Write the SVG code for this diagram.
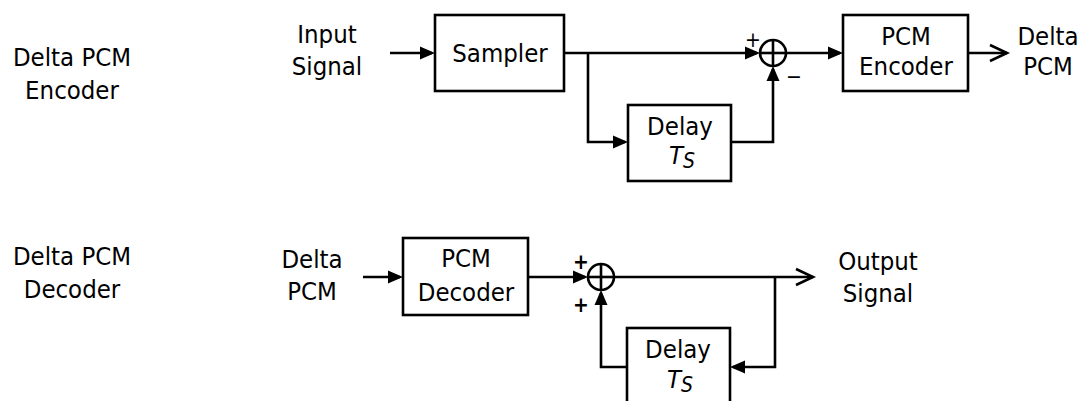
<svg xmlns="http://www.w3.org/2000/svg" width="1088" height="401" viewBox="0 0 1088 401">
<style>
text{font-family:"DejaVu Sans Condensed","DejaVu Sans","Verdana",sans-serif;font-size:25.5px;fill:#000;text-anchor:middle}
.box{fill:#fff;stroke:#000;stroke-width:2.6}
.sum{fill:#fff;stroke:#000;stroke-width:2.6}
.ln{fill:none;stroke:#000;stroke-width:2.6}
.arr{marker-end:url(#fa)}
.open{marker-end:url(#oa)}
.it{font-style:italic}
.sign{font-size:21px}
.bsign{font-size:21px;font-weight:bold}
</style>
<defs>
<marker id="fa" markerUnits="userSpaceOnUse" markerWidth="16" markerHeight="14" refX="12" refY="6.5" orient="auto" overflow="visible">
<path d="M0,0 L15,6.5 L0,13 z" fill="#000"/>
</marker>
<marker id="oa" markerUnits="userSpaceOnUse" markerWidth="18" markerHeight="18" refX="17" refY="8" orient="auto" overflow="visible">
<path d="M0,0 L17,8 L0,16" fill="none" stroke="#000" stroke-width="2.6"/>
</marker>
</defs>

<g id="label-encoder">
<text x="72" y="66">Delta PCM</text>
<text x="72" y="99">Encoder</text>
</g>
<g id="label-decoder">
<text x="72" y="265">Delta PCM</text>
<text x="72" y="298">Decoder</text>
</g>

<g id="connectors">
<line class="ln arr" x1="390" y1="53" x2="432" y2="53"/>
<line class="ln arr" x1="564" y1="53" x2="757" y2="53"/>
<polyline class="ln arr" points="588,53 588,142 625,142"/>
<polyline class="ln arr" points="731,142 773,142 773,69"/>
<line class="ln arr" x1="786" y1="53" x2="840" y2="53"/>
<line class="ln open" x1="968" y1="53" x2="1007" y2="53"/>

<line class="ln arr" x1="363" y1="277" x2="400" y2="277"/>
<line class="ln arr" x1="528" y1="277" x2="585" y2="277"/>
<line class="ln open" x1="614" y1="277" x2="813" y2="277"/>
<polyline class="ln arr" points="775,277 775,367 733,367"/>
<polyline class="ln arr" points="627,367 601,367 601,293"/>
</g>

<g id="input-signal">
<text x="327" y="43">Input</text>
<text x="327" y="75">Signal</text>
</g>
<g id="sampler">
<rect class="box" x="435" y="15" width="129" height="76"/>
<text x="500" y="62">Sampler</text>
</g>
<g id="sum-enc">
<circle class="sum" cx="773" cy="53" r="13"/>
<line class="ln" x1="760" y1="53" x2="786" y2="53"/>
<line class="ln" x1="773" y1="40" x2="773" y2="66"/>
<text class="sign" x="753" y="47">+</text>
<text class="sign" x="794" y="84">−</text>
</g>
<g id="delay-enc">
<rect class="box" x="628" y="105" width="103" height="76"/>
<text x="680" y="135">Delay</text>
<text x="669" y="164" style="text-anchor:start"><tspan class="it">T</tspan><tspan class="it" font-size="21" dy="4">S</tspan></text>
</g>
<g id="pcm-encoder">
<rect class="box" x="843" y="15" width="125" height="76"/>
<text x="906" y="45">PCM</text>
<text x="906" y="75">Encoder</text>
</g>
<g id="delta-pcm-out">
<text x="1048" y="45">Delta</text>
<text x="1048" y="75">PCM</text>
</g>

<g id="delta-pcm-in">
<text x="312" y="268">Delta</text>
<text x="312" y="300">PCM</text>
</g>
<g id="pcm-decoder">
<rect class="box" x="403" y="238" width="125" height="77"/>
<text x="466" y="267">PCM</text>
<text x="466" y="301">Decoder</text>
</g>
<g id="sum-dec">
<circle class="sum" cx="601" cy="277" r="13"/>
<line class="ln" x1="588" y1="277" x2="614" y2="277"/>
<line class="ln" x1="601" y1="264" x2="601" y2="290"/>
<text class="bsign" x="581" y="269">+</text>
<text class="bsign" x="581" y="312">+</text>
</g>
<g id="delay-dec">
<rect class="box" x="627" y="328" width="103" height="80"/>
<text x="678" y="358">Delay</text>
<text x="667" y="388" style="text-anchor:start"><tspan class="it">T</tspan><tspan class="it" font-size="21" dy="4">S</tspan></text>
</g>
<g id="output-signal">
<text x="878" y="270">Output</text>
<text x="878" y="302">Signal</text>
</g>
</svg>
